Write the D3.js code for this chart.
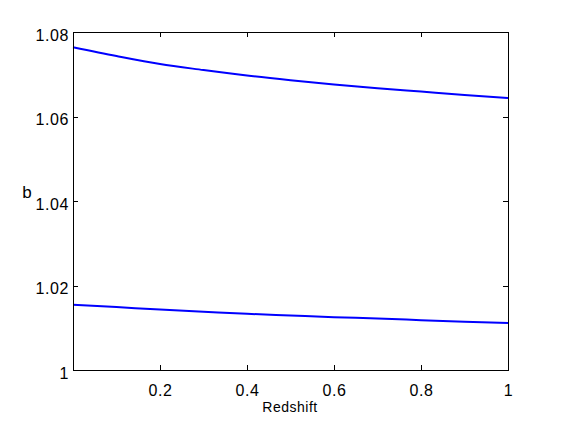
<!DOCTYPE html>
<html><head><meta charset="utf-8">
<script src="https://cdn.jsdelivr.net/npm/d3@7"></script>
<style>body{margin:0;background:#fff}svg{display:block}text{font-family:"Liberation Sans",Arial,Helvetica,sans-serif}</style>
</head><body><svg id="c" width="561" height="421"></svg>
<script>
const redshift = [0, 0.1, 0.2, 0.3, 0.4, 0.5, 0.6, 0.7, 0.8, 0.9, 1.0];
const bUpper = [1.0764, 1.0743, 1.0724, 1.0710, 1.0697, 1.0686, 1.0676, 1.0667, 1.0659, 1.0651, 1.0644];
const bLower = [1.01546, 1.0149, 1.0143, 1.0138, 1.0133, 1.0129, 1.0125, 1.0122, 1.0118, 1.0114, 1.0111];
const xTicks = [0.2, 0.4, 0.6, 0.8, 1];
const yTicks = [1, 1.02, 1.04, 1.06, 1.08];
const xLabel = "Redshift", yLabel = "b";

const svg = d3.select("#c");
const L = 73, R = 508, T = 32, B = 370;
const x = d3.scaleLinear().domain([0, 1]).range([L, R]);
const y = d3.scaleLinear().domain([1, 1.08]).range([B, T]);

const line = d3.line().x((d, i) => x(redshift[i])).y(d => y(d)).curve(d3.curveMonotoneX);
[bUpper, bLower].forEach(s => {
  svg.append("path").attr("d", line(s)).attr("fill", "none").attr("stroke", "#0000ff").attr("stroke-width", 2);
});

const g = svg.append("g").attr("stroke", "#000").attr("stroke-width", 1).attr("shape-rendering", "crispEdges");
g.append("rect").attr("x", L + 0.5).attr("y", T + 0.5).attr("width", R - L).attr("height", B - T).attr("fill", "none");
xTicks.forEach(t => {
  const px = Math.round(x(t)) + 0.5;
  g.append("line").attr("x1", px).attr("x2", px).attr("y1", B).attr("y2", B - 5);
  g.append("line").attr("x1", px).attr("x2", px).attr("y1", T).attr("y2", T + 5);
});
yTicks.forEach(t => {
  const py = Math.round(y(t)) + 0.5;
  g.append("line").attr("x1", L).attr("x2", L + 5).attr("y1", py).attr("y2", py);
  g.append("line").attr("x1", R).attr("x2", R - 5).attr("y1", py).attr("y2", py);
});

svg.selectAll(".xt").data(xTicks).enter().append("text")
  .attr("x", d => x(d) + 0.5).attr("y", 395.5).attr("text-anchor", "middle")
  .attr("font-size", 16).attr("letter-spacing", 0.6).text(d => d3.format("")(d));
svg.selectAll(".yt").data(yTicks).enter().append("text")
  .attr("x", 69).attr("y", d => y(d) + 8.7).attr("text-anchor", "end")
  .attr("font-size", 16).attr("letter-spacing", 0.6).text(d => d3.format("")(+d.toFixed(2)));
svg.append("text").attr("x", 290).attr("y", 412).attr("text-anchor", "middle").attr("font-size", 14)
  .attr("letter-spacing", 0.5).text(xLabel);
svg.append("text").attr("x", 27).attr("y", 198).attr("text-anchor", "middle").attr("font-size", 17).text(yLabel);
</script></body></html>
